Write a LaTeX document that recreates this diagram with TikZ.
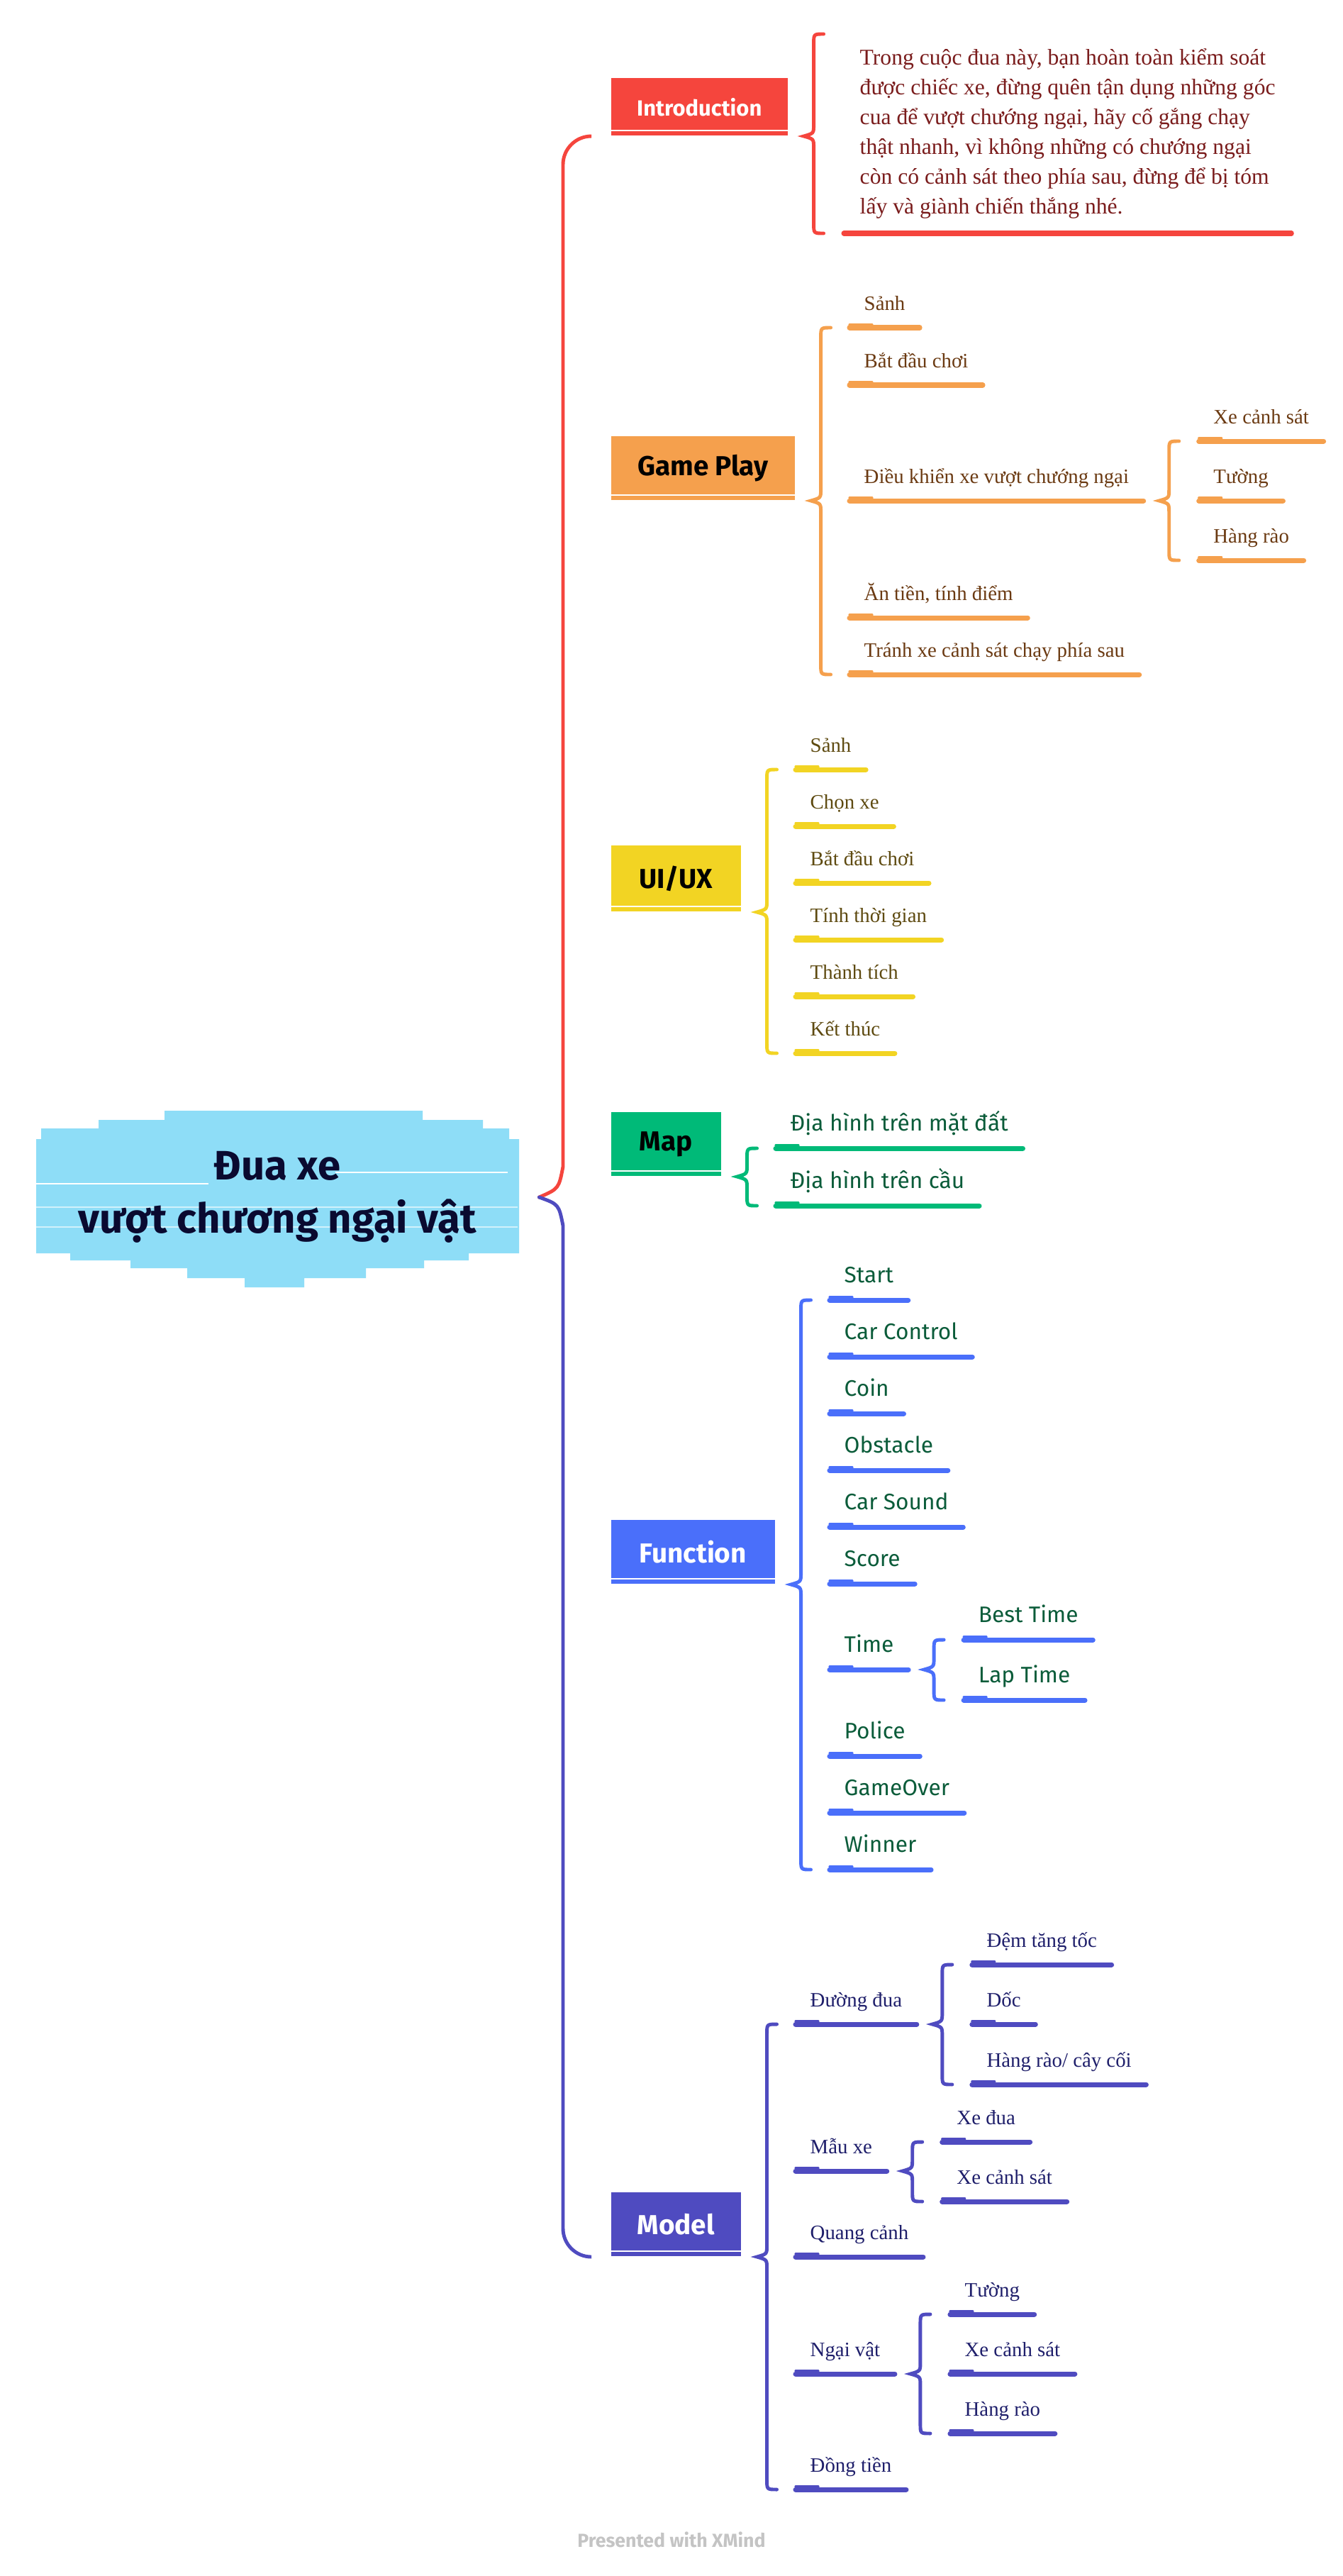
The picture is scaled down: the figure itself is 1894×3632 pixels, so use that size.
\documentclass[tikz,border=0pt]{standalone}
\usepackage{fontspec}
\setmainfont{Liberation Serif}
\newfontfamily\hand{Fira Sans}
\usetikzlibrary{calc}

\definecolor{cIntro}{HTML}{F5453D}
\definecolor{cGP}{HTML}{F5A04D}
\definecolor{cUI}{HTML}{F2D423}
\definecolor{cMap}{HTML}{00BA78}
\definecolor{cFn}{HTML}{4A6FFA}
\definecolor{cModel}{HTML}{4F4BC0}
\definecolor{cRoot}{HTML}{8EDDF7}
\definecolor{cRootTxt}{HTML}{0A0A30}
\definecolor{cIntroTxt}{HTML}{7A1C1C}
\definecolor{cGPTxt}{HTML}{6B3A12}
\definecolor{cUITxt}{HTML}{5E4A10}
\definecolor{cMapTxt}{HTML}{0B5C3A}
\definecolor{cModTxt}{HTML}{1F1F6B}
\definecolor{cCredit}{HTML}{C4C4C4}

\newcommand{\leaffont}{\fontsize{8.2pt}{10pt}\selectfont}
\newcommand{\sleaffont}{\hand\fontsize{9pt}{11pt}\selectfont}

\tikzset{
  topic/.style={anchor=south west, inner sep=0pt, minimum height=0.9cm,
    font=\hand\bfseries\fontsize{11pt}{13pt}\selectfont},
  leaf/.style={anchor=south west, inner xsep=0.2cm, inner ysep=0.14cm,
    text depth=0.1cm, font=\leaffont},
  gpleaf/.style={leaf, text=cGPTxt},
  uileaf/.style={leaf, text=cUITxt},
  mapleaf/.style={leaf, text=cMapTxt, font=\sleaffont},
  fnleaf/.style={leaf, text=cMapTxt, font=\sleaffont},
  mdleaf/.style={leaf, text=cModTxt},
  uline/.style={line width=2pt, line cap=round},
  uthin/.style={line width=0.9pt, line cap=round},
  brc/.style={line width=1.4pt, line cap=round},
  trunk/.style={line width=1.4pt, line cap=round},
}

% curly bracket from a parent to its first and last child
\newcommand{\curly}[4]{%
  \draw[brc,#1] let \p1=($(#2.south east)+(22,0)$), \p2=(#3), \p3=(#4) in
    (\x1+0.28cm,\y2) .. controls (\x1+0.14cm,\y2) .. (\x1+0.14cm,\y2-0.14cm)
    -- (\x1+0.14cm,\y1+0.16cm) .. controls (\x1+0.14cm,\y1+0.04cm) .. (\x1,\y1)
    .. controls (\x1+0.14cm,\y1-0.04cm) .. (\x1+0.14cm,\y1-0.16cm)
    -- (\x1+0.14cm,\y3+0.14cm) .. controls (\x1+0.14cm,\y3) .. (\x1+0.28cm,\y3);}

\begin{document}
\begin{tikzpicture}[x=0.01cm,y=-0.01cm]
\fill[white] (0,0) rectangle (1894,3632);
\useasboundingbox (0,0) rectangle (1894,3632);

% centre
\fill[cRoot] (232,1566) -- (596,1566) -- (596,1579) -- (681,1579) -- (681,1591)
  -- (718,1591) -- (718,1606) -- (732,1606) -- (732,1767) -- (661,1767)
  -- (661,1777) -- (598,1777) -- (598,1788) -- (516,1788) -- (516,1802)
  -- (429,1802) -- (429,1815) -- (345,1815) -- (345,1802) -- (264,1802)
  -- (264,1788) -- (184,1788) -- (184,1777) -- (99,1777) -- (99,1767)
  -- (51,1767) -- (51,1606) -- (58,1606) -- (58,1591) -- (139,1591)
  -- (139,1579) -- (232,1579) -- cycle;
\draw[white, line width=0.6pt] (473,1653) -- (716,1653);
\draw[white, line width=0.6pt] (51,1669) -- (294,1669);
\draw[white, line width=0.4pt, opacity=0.6] (51,1702) -- (730,1702);
\draw[white, line width=0.4pt, opacity=0.6] (51,1730) -- (730,1730);
\node[align=center, inner sep=0pt, minimum width=6.81cm, text=cRootTxt,
  font=\hand\bfseries\fontsize{16.5pt}{21.5pt}\selectfont] (root) at (391,1688)
  {Đua xe\\vượt chương ngại vật};
\coordinate (jn) at ($(root.east)+(28,0)$);

% topics
\node[topic, fill=cIntro, text=white, minimum width=2.49cm, minimum height=0.81cm,
  font=\hand\bfseries\fontsize{8.8pt}{10pt}\selectfont] (intro) at (861,192) {Introduction};
\node[topic, fill=cGP, minimum width=2.59cm] (gp) at (861,706) {Game Play};
\node[topic, fill=cUI, minimum width=1.83cm, minimum height=0.93cm] (ui) at (861,1286) {UI/UX};
\node[topic, fill=cMap, minimum width=1.55cm] (map) at (861,1659) {Map};
\node[topic, fill=cFn, text=white, minimum width=2.31cm] (fn) at (861,2234) {Function};
\node[topic, fill=cModel, text=white, minimum width=1.83cm] (model) at (861,3182) {Model};
\foreach \b in {intro,gp,ui,map,fn,model}
  \draw[white, line width=0.7pt] ($(\b.south west)+(0,-8)$) -- ($(\b.south east)+(0,-8)$);

% trunk
\draw[trunk, cIntro] (jn) .. controls (788,1676) .. (794,1645)
  [rounded corners=4mm] |- ($(intro.south west)+(-27,0)$);
\draw[trunk, cModel] (jn) .. controls (788,1698) .. (794,1728)
  [rounded corners=4mm] |- ($(model.south west)+(-27,0)$);

% Introduction
\node[leaf, align=left, text=cIntroTxt, text depth=0.13cm, inner xsep=0.22cm,
  font=\fontsize{9pt}{11.95pt}\selectfont] (introtxt) at (1190,329)
  {Trong cuộc đua này, bạn hoàn toàn kiểm soát\\
   được chiếc xe, đừng quên tận dụng những góc\\
   cua để vượt chướng ngại, hãy cố gắng chạy\\
   thật nhanh, vì không những có chướng ngại\\
   còn có cảnh sát theo phía sau, đừng để bị tóm\\
   lấy và giành chiến thắng nhé.};
\coordinate (introtop) at ($(introtxt.south west)+(0,-281)$);
\curly{cIntro}{intro}{introtop}{introtxt.south west}
\draw[uline, cIntro] (introtxt.south west) -- (introtxt.south east);

% Game Play
\node[gpleaf] (gp1) at (1198,462) {Sảnh};
\node[gpleaf] (gp2) at (1198,543) {Bắt đầu chơi};
\node[gpleaf] (gp3) at (1198,706) {Điều khiển xe vượt chướng ngại};
\node[gpleaf] (gp4) at (1198,871) {Ăn tiền, tính điểm};
\node[gpleaf] (gp5) at (1198,951) {Tránh xe cảnh sát chạy phía sau};
\node[gpleaf] (gp31) at ($(gp3.south east)+(78,-84)$) {Xe cảnh sát};
\node[gpleaf] (gp32) at ($(gp3.south east)+(78,0)$) {Tường};
\node[gpleaf] (gp33) at ($(gp3.south east)+(78,84)$) {Hàng rào};
\curly{cGP}{gp}{gp1.south west}{gp5.south west}
\curly{cGP}{gp3}{gp31.south west}{gp33.south west}

% UI/UX
\foreach \t [count=\i] in {Sảnh, Chọn xe, Bắt đầu chơi, Tính thời gian, Thành tích, Kết thúc}
  \node[uileaf] (ui\i) at (1122,1005+80*\i) {\t};
\curly{cUI}{ui}{ui1.south west}{ui6.south west}

% Map
\node[mapleaf] (map1) at (1094,1619) {Địa hình trên mặt đất};
\node[mapleaf] (map2) at (1094,1700) {Địa hình trên cầu};
\curly{cMap}{map}{map1.south west}{map2.south west}

% Function
\foreach \t/\yy [count=\i] in {Start/1833, Car Control/1913, Coin/1993, Obstacle/2073,
    Car Sound/2153, Score/2233, Time/2354, Police/2476, GameOver/2556, Winner/2636}
  \node[fnleaf] (fn\i) at (1170,\yy) {\t};
\node[fnleaf] (fn71) at ($(fn7.south east)+(78,-42)$) {Best Time};
\node[fnleaf] (fn72) at ($(fn7.south east)+(78,43)$) {Lap Time};
\curly{cFn}{fn}{fn1.south west}{fn10.south west}
\curly{cFn}{fn7}{fn71.south west}{fn72.south west}

% Model
\node[mdleaf] (md1) at (1122,2854) {Đường đua};
\node[mdleaf] (md2) at (1122,3061) {Mẫu xe};
\node[mdleaf] (md3) at (1122,3182) {Quang cảnh};
\node[mdleaf] (md4) at (1122,3347) {Ngại vật};
\node[mdleaf] (md5) at (1122,3510) {Đồng tiền};
\node[mdleaf] (md11) at ($(md1.south east)+(78,-84)$) {Đệm tăng tốc};
\node[mdleaf] (md12) at ($(md1.south east)+(78,0)$) {Dốc};
\node[mdleaf] (md13) at ($(md1.south east)+(78,85)$) {Hàng rào/ cây cối};
\node[mdleaf] (md21) at ($(md2.south east)+(78,-41)$) {Xe đua};
\node[mdleaf] (md22) at ($(md2.south east)+(78,43)$) {Xe cảnh sát};
\node[mdleaf] (md41) at ($(md4.south east)+(78,-84)$) {Tường};
\node[mdleaf] (md42) at ($(md4.south east)+(78,0)$) {Xe cảnh sát};
\node[mdleaf] (md43) at ($(md4.south east)+(78,84)$) {Hàng rào};
\curly{cModel}{model}{md1.south west}{md5.south west}
\curly{cModel}{md1}{md11.south west}{md13.south west}
\curly{cModel}{md2}{md21.south west}{md22.south west}
\curly{cModel}{md4}{md41.south west}{md43.south west}

% underlines
\foreach \n/\c in {gp1/cGP,gp2/cGP,gp3/cGP,gp4/cGP,gp5/cGP,gp31/cGP,gp32/cGP,gp33/cGP,
    ui1/cUI,ui2/cUI,ui3/cUI,ui4/cUI,ui5/cUI,ui6/cUI,map1/cMap,map2/cMap,
    fn1/cFn,fn2/cFn,fn3/cFn,fn4/cFn,fn5/cFn,fn6/cFn,fn7/cFn,fn8/cFn,fn9/cFn,fn10/cFn,
    fn71/cFn,fn72/cFn,md1/cModel,md2/cModel,md3/cModel,md4/cModel,md5/cModel,
    md11/cModel,md12/cModel,md13/cModel,md21/cModel,md22/cModel,
    md41/cModel,md42/cModel,md43/cModel}{
  \draw[uline,\c] (\n.south west) -- (\n.south east);
  \draw[uthin,\c] ($(\n.south west)+(0,-4)$) -- +(32,0);
}

\node[text=cCredit, font=\hand\bfseries\fontsize{7.6pt}{9pt}\selectfont] (credit)
  at (947,3581) {Presented with XMind};
\end{tikzpicture}
\end{document}
